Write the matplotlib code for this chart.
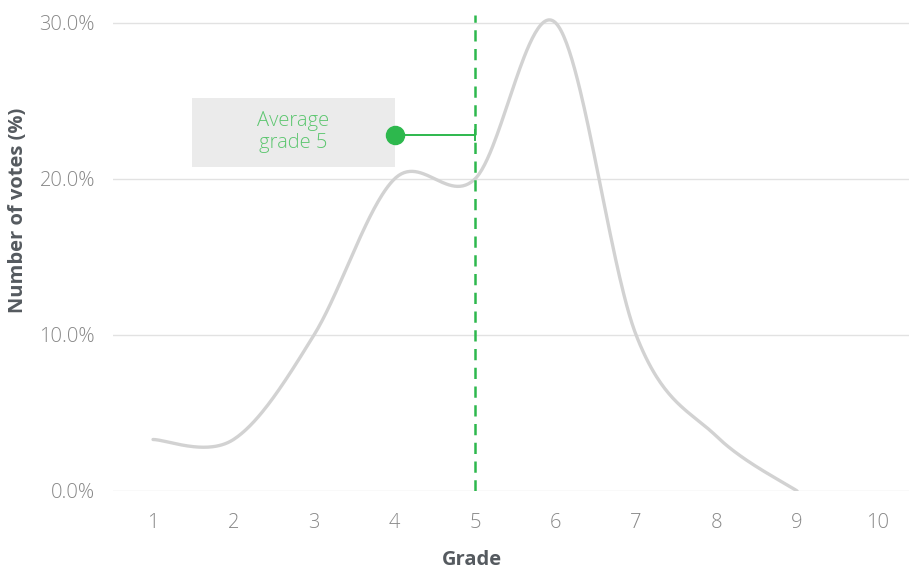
import numpy as np
import matplotlib.pyplot as plt
import matplotlib.patches as mpatches

grades = [1, 2, 3, 4, 5, 6, 7, 8, 9]
votes_pct = [3.3, 3.3, 10.0, 20.0, 20.0, 30.0, 10.0, 3.5, 0.0]
avg_grade = 5
avg_label_y = 22.8
xticks = list(range(1, 11))
yticks = [0, 10, 20, 30]

plt.rcParams['font.family'] = ['Open Sans', 'DejaVu Sans']


def cardinal(xs, ys, n=60):
    # catmull-rom style smoothing, end points duplicated
    xs = np.asarray(xs, float)
    ys = np.asarray(ys, float)
    px = np.concatenate([[xs[0]], xs, [xs[-1]]])
    py = np.concatenate([[ys[0]], ys, [ys[-1]]])
    outx, outy = [], []
    for i in range(1, len(px) - 2):
        m0x = (px[i + 1] - px[i - 1]) / 2
        m1x = (px[i + 2] - px[i]) / 2
        m0y = (py[i + 1] - py[i - 1]) / 2
        m1y = (py[i + 2] - py[i]) / 2
        t = np.linspace(0, 1, n)
        h00 = 2 * t**3 - 3 * t**2 + 1
        h10 = t**3 - 2 * t**2 + t
        h01 = -2 * t**3 + 3 * t**2
        h11 = t**3 - t**2
        outx.append(h00 * px[i] + h10 * m0x + h01 * px[i + 1] + h11 * m1x)
        outy.append(h00 * py[i] + h10 * m0y + h01 * py[i + 1] + h11 * m1y)
    return np.concatenate(outx), np.concatenate(outy)


fig = plt.figure(figsize=(9.09, 5.69), dpi=100)
ax = fig.add_axes([113 / 909, 78 / 569, 796 / 909, 476 / 569])

sx, sy = cardinal(grades, votes_pct)
ax.plot(sx, sy, color='#d2d2d2', lw=2.4, solid_capstyle='round', zorder=3)

ax.axvline(avg_grade, color='#2db84d', lw=1.8, linestyle=(0, (4.5, 3)), zorder=4)

# annotation box + connector
green = '#2db84d'
ax.add_patch(mpatches.Rectangle((1.484, 20.77), 2.52, 4.42, facecolor='#ebebeb',
                                edgecolor='none', zorder=2))
ax.text(2.74, 23.0, 'Average\ngrade 5', ha='center', va='center', fontsize=14.5,
        color='#5cc66f', fontweight='light', linespacing=1.1, zorder=5)
ax.plot([4.0, avg_grade], [avg_label_y, avg_label_y], color=green, lw=1.4, zorder=5)
ax.plot([avg_grade, avg_grade], [avg_label_y - 0.3, avg_label_y + 0.3], color=green,
        lw=1.4, zorder=5)
ax.plot([4.0], [avg_label_y], 'o', color=green, ms=13, zorder=6)

ax.set_xlim(0.503, 10.39)
ax.set_ylim(0, 30.5)
ax.set_xticks(xticks)
ax.set_yticks(yticks)
ax.set_yticklabels([f'{v:.1f}%' for v in yticks])
ax.tick_params(axis='both', length=0, labelsize=14.5, labelcolor='#888888')
ax.tick_params(axis='x', pad=16)
ax.tick_params(axis='y', pad=13)
for lab in ax.get_xticklabels() + ax.get_yticklabels():
    lab.set_fontweight('light')

ax.grid(axis='y', color='#e2e2e2', lw=1)
ax.set_axisbelow(True)
for s in ax.spines.values():
    s.set_visible(False)

ax.set_xlabel('Grade', fontsize=14.5, fontweight='bold', color='#555a5f')
ax.xaxis.set_label_coords(0.451, -0.124)
ax.set_ylabel('Number of votes (%)', fontsize=14.5, fontweight='bold', color='#555a5f')
ax.yaxis.set_label_coords(-0.107, 0.59)

fig.savefig('out.png', dpi=100)
